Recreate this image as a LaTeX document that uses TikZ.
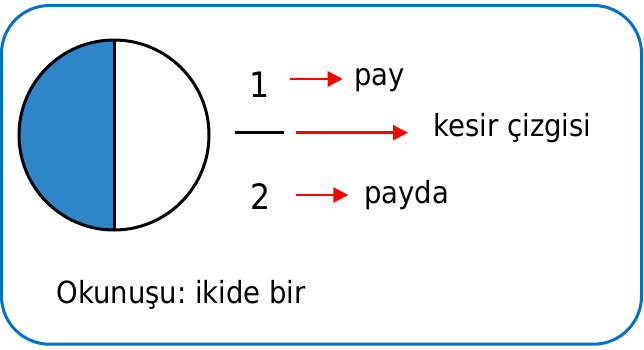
\documentclass[tikz,border=0pt]{standalone}
\usepackage{fontspec}
\setmainfont{DejaVu Sans Condensed}
\usetikzlibrary{arrows.meta}
\definecolor{frameblue}{RGB}{0,114,198}
\definecolor{halfblue}{RGB}{46,134,200}
\frenchspacing

\begin{document}
\begin{tikzpicture}[
    x=1pt, y=-1pt,
    cardframe/.style={draw=frameblue, line width=3pt, rounded corners=48pt},
    discline/.style={draw=black, line width=3pt},
    fracbar/.style={draw=black, line width=3pt},
    redarrow/.style={
      draw=red, line width=2.7pt,
      -{Triangle[length=15pt,width=15pt]}
    },
    digit/.style={inner sep=0pt, anchor=base, font=\fontsize{35}{40}\selectfont},
    partname/.style={inner sep=0pt, anchor=base west, font=\fontsize{30.5}{36}\selectfont}
  ]
    \useasboundingbox (0,0) rectangle (644,349);
    \draw[cardframe] (1.5,5.5) rectangle (641.5,344.2);

    % half-shaded disc
    \fill[halfblue] (114,40) arc (270:90:95) -- cycle;
    \draw[discline] (114,135) circle (95);
    \draw[discline] (114,40) -- (114,230);

    % the fraction 1/2
    \node[digit] (Num) at (260,97.3) {1};
    \node[digit] (Den) at (261,209.3) {2};
    \coordinate (BarL) at (235,132.7);
    \coordinate (BarR) at (284.3,132.7);
    \draw[fracbar] (BarL) -- (BarR);

    \node[partname] (Pay) at (354,85) {pay};
    \node[partname] (Line) at (433.5,136) {kesir çizgisi};
    \node[partname] (Payda) at (364,203) {payda};

    \coordinate (PayFrom) at (290,79);
    \coordinate (PayTo) at (342.7,79);
    \coordinate (LineFrom) at (296,132.7);
    \coordinate (LineTo) at (408,132.7);
    \coordinate (PaydaFrom) at (296,195);
    \coordinate (PaydaTo) at (348.3,195);
    \draw[redarrow] (PayFrom) -- (PayTo);
    \draw[redarrow] (LineFrom) -- (LineTo);
    \draw[redarrow] (PaydaFrom) -- (PaydaTo);

    \node[partname] (Reading) at (56.5,303.3) {Okunuşu: ikide bir};
\end{tikzpicture}
\end{document}
